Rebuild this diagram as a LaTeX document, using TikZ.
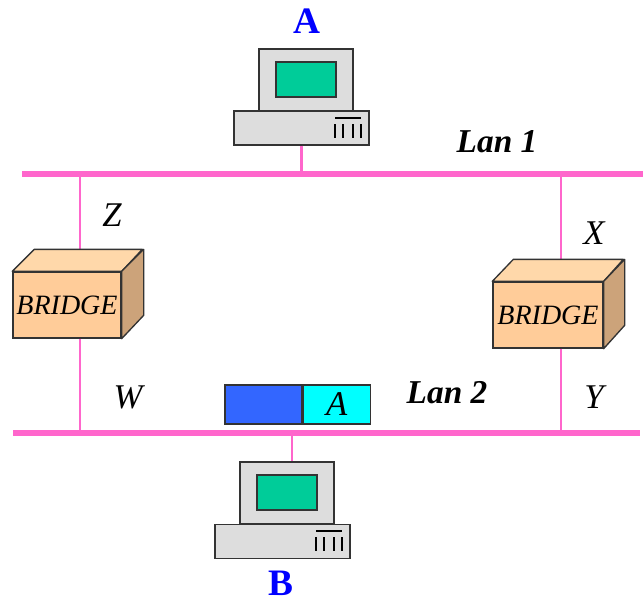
\documentclass[tikz,border=0pt]{standalone}
\usepackage{fontspec}
\setmainfont{Liberation Serif}
\usetikzlibrary{positioning}
\definecolor{lanpink}{RGB}{255,102,204}
\definecolor{casegray}{RGB}{221,221,221}
\definecolor{screengreen}{RGB}{0,204,153}
\definecolor{bridgefront}{RGB}{255,204,153}
\definecolor{bridgetop}{RGB}{255,216,170}
\definecolor{bridgeside}{RGB}{204,163,122}
\definecolor{pktblue}{RGB}{51,102,255}
\definecolor{pktcyan}{RGB}{0,255,255}
\tikzset{every picture/.style={line width=0.75pt}}
\tikzset{
  lan/.style={draw=lanpink, line width=4.5pt},
  cable/.style={draw=lanpink, line width=1.8pt},
  casebox/.style={draw=black!80, fill=casegray, line width=1pt, inner sep=0pt},
  screenbox/.style={draw=black!80, fill=screengreen, line width=1pt, inner sep=0pt},
  bridgebox/.style={draw=black!80, fill=bridgefront, line width=1pt, inner sep=0pt,
    font=\fontsize{21}{24}\selectfont\itshape},
  portlabel/.style={font=\fontsize{26}{30}\selectfont\itshape, inner sep=0pt},
  lanlabel/.style={font=\fontsize{25}{30}\selectfont\bfseries\itshape, inner sep=0pt},
  hostlabel/.style={font=\fontsize{28}{32}\selectfont\bfseries, text=blue, inner sep=0pt},
}

\begin{document}
\begin{tikzpicture}[x=0.75pt,y=0.75pt,yscale=-1,xscale=1]
\useasboundingbox (0,0) rectangle (643,601);

% LANs
\coordinate (lan1W) at (22,174);
\coordinate (lan1E) at (643,174);
\coordinate (lan2W) at (13,433);
\coordinate (lan2E) at (640,433);
\draw[lan] (lan1W) -- (lan1E);
\draw[lan] (lan2W) -- (lan2E);

% Computer A
\node[casebox, minimum width=70.5pt, minimum height=46.5pt] (monA) at (306,80) {};
\node[screenbox, minimum width=45pt, minimum height=26.25pt] (scrA) at (306,79.5) {};
\node[casebox, minimum width=101.25pt, minimum height=25.5pt] (baseA) at (301.5,128) {};
\draw[line width=1pt] (335,118) -- (361,118);
\foreach \x in {335,343,353,361}
  \draw[line width=1pt] (\x,124) -- (\x,138);
\draw[cable] (baseA.south) -- (baseA.south |- lan1W);
\node[hostlabel] (labA) at (307,21) {A};

% Computer B
\coordinate (tapB) at (292,433);
\draw[cable] (tapB) -- ++(0,29);
\node[casebox, minimum width=70.5pt, minimum height=46.5pt] (monB) at (287,493) {};
\node[screenbox, minimum width=45pt, minimum height=26.25pt] (scrB) at (287,492.5) {};
\node[casebox, minimum width=101.25pt, minimum height=25.5pt] (baseB) at (282.5,541.5) {};
\draw[line width=1pt] (316,531) -- (342,531);
\foreach \x in {316,324,334,342}
  \draw[line width=1pt] (\x,537) -- (\x,551);
\node[hostlabel, text depth=0pt, anchor=south] (labB) at (281,596) {B};

% left bridge
\coordinate (tapZ) at (80,174);
\coordinate (tapW) at (80,433);
\draw[cable] (tapZ) -- ++(0,76);
\node[bridgebox, minimum width=81pt, minimum height=49.5pt] (brL) at (67,305) {BRIDGE};
\draw[black!80, fill=bridgetop, line width=1pt, line join=round]
  (brL.north west) -- ++(22,-22) -- ++(108,0) -- (brL.north east) -- cycle;
\draw[black!80, fill=bridgeside, line width=1pt, line join=round]
  (brL.north east) -- ++(22,-22) -- ++(0,66) -- (brL.south east) -- cycle;
\draw[cable] (brL.south -| tapZ) -- (tapW);
\node[portlabel] (labZ) at (112,215) {Z};
\node[portlabel] (labW) at (128,397) {W};

% right bridge
\coordinate (tapX) at (561,174);
\coordinate (tapY) at (561,433);
\draw[cable] (tapX) -- ++(0,86);
\node[bridgebox, minimum width=82.5pt, minimum height=49.5pt] (brR) at (548,315) {BRIDGE};
\draw[black!80, fill=bridgetop, line width=1pt, line join=round]
  (brR.north west) -- ++(21,-22) -- ++(110,0) -- (brR.north east) -- cycle;
\draw[black!80, fill=bridgeside, line width=1pt, line join=round]
  (brR.north east) -- ++(21,-22) -- ++(0,66) -- (brR.south east) -- cycle;
\draw[cable] (brR.south -| tapX) -- (tapY);
\node[portlabel] (labX) at (594,233) {X};
\node[portlabel] (labY) at (594,397) {Y};

% frame on Lan 2
\node[draw=black!80, fill=pktblue, line width=1pt, minimum width=57.75pt, minimum height=29.25pt, inner sep=0pt] (pktHead) at (263.5,404.5) {};
\node[draw=black!80, fill=pktcyan, line width=1pt, minimum width=50.25pt, minimum height=29.25pt, inner sep=0pt,
  font=\fontsize{26}{30}\selectfont\itshape, right=0pt of pktHead] (pktData) {A};

% LAN names
\node[lanlabel] (lab1) at (497,142) {Lan 1};
\node[lanlabel] (lab2) at (447,393) {Lan 2};

\end{tikzpicture}
\end{document}
